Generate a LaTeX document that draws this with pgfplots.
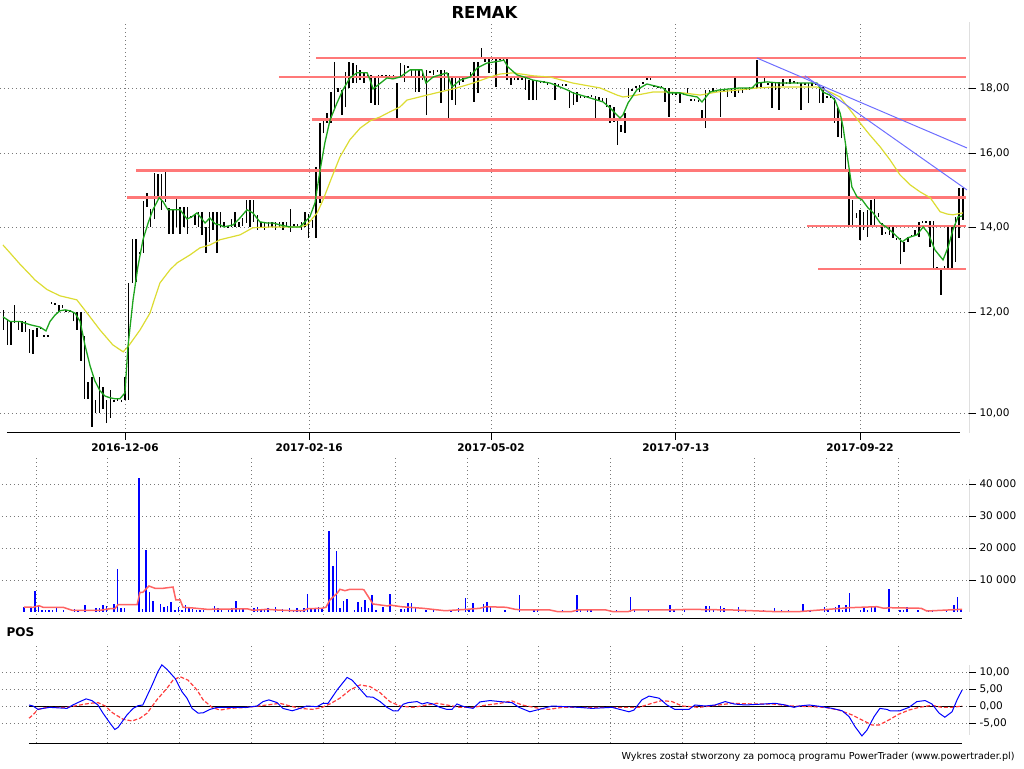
\documentclass[border=0pt]{standalone}
\usepackage{pgfplots}
\pgfplotsset{compat=1.18}
\usepackage{pgfplotstable}
\usepackage{fontspec}
\setmainfont{DejaVu Sans}

\definecolor{gridgray}{RGB}{120,120,120}
\definecolor{lvl}{RGB}{255,120,120}
\definecolor{trend}{RGB}{110,110,255}
\definecolor{maS}{RGB}{30,165,30}
\definecolor{maL}{RGB}{220,220,50}
\definecolor{volma}{RGB}{255,100,100}
\definecolor{posred}{RGB}{255,60,60}

% daily bars: index, low, high
\pgfplotstableread{
i lo hi
0 11.62 12.05
1 11.31 11.84
2 11.31 11.80
3 11.77 12.16
4 11.62 11.80
5 11.58 11.80
6 11.58 11.80
7 11.15 11.64
8 11.13 11.62
9 11.48 11.66
10 11.64 11.68
11 11.48 11.52
12 11.48 11.52
13 12.18 12.23
14 12.16 12.20
15 12.00 12.16
16 12.09 12.16
17 12.00 12.05
18 12.00 12.05
19 11.80 12.00
20 11.62 12.00
21 10.99 12.00
22 10.26 11.50
23 10.26 10.58
24 9.75 10.68
25 10.00 10.24
26 10.00 10.68
27 10.07 10.48
28 9.82 10.24
29 9.91 10.43
30 10.20 10.24
31 10.22 10.26
32 10.20 10.24
33 10.24 10.68
34 10.24 12.65
35 12.65 13.70
36 12.67 13.70
37 13.33 13.38
38 13.36 14.67
39 14.52 14.89
40 14.00 14.46
41 14.20 15.44
42 14.73 15.41
43 14.44 15.41
44 14.65 15.46
45 13.83 14.49
46 13.83 14.44
47 14.00 14.81
48 13.83 14.52
49 14.00 14.52
50 13.83 14.52
51 14.23 14.28
52 14.05 14.33
53 14.00 14.39
54 13.80 14.39
55 13.36 14.00
56 13.63 14.39
57 13.93 14.39
58 13.36 14.39
59 14.00 14.39
60 14.00 14.13
61 13.98 14.03
62 14.00 14.21
63 14.00 14.39
64 14.00 14.13
65 14.03 14.23
66 14.10 14.70
67 14.00 14.70
68 14.13 14.70
69 13.93 14.31
70 14.00 14.13
71 13.93 14.13
72 14.00 14.13
73 14.00 14.13
74 13.93 14.13
75 14.00 14.13
76 13.93 14.13
77 14.00 14.13
78 13.88 14.46
79 14.03 14.08
80 14.03 14.08
81 13.93 14.13
82 14.00 14.39
83 13.73 14.33
84 13.98 14.18
85 13.73 15.60
86 14.62 16.90
87 16.59 16.99
88 16.90 17.20
89 16.90 17.87
90 17.30 18.86
91 17.87 18.00
92 17.14 17.94
93 17.39 18.53
94 18.00 18.86
95 18.16 18.83
96 18.16 18.76
97 18.26 18.60
98 18.16 18.53
99 18.36 18.46
100 17.52 18.43
101 17.46 18.40
102 17.46 18.43
103 18.36 18.43
104 18.36 18.43
105 18.36 18.43
106 18.33 18.43
107 17.05 18.16
108 18.33 18.83
109 18.20 18.76
110 18.66 18.73
111 18.36 18.60
112 17.87 18.60
113 17.87 18.60
114 18.26 18.53
115 17.14 18.60
116 18.50 18.56
117 18.43 18.60
118 18.53 18.60
119 17.52 18.60
120 17.94 18.60
121 16.99 18.50
122 17.61 18.36
123 17.46 18.40
124 18.10 18.36
125 18.20 18.40
126 18.36 18.40
127 18.36 18.53
128 17.55 18.86
129 17.84 18.86
130 19.00 19.35
131 18.86 18.97
132 18.50 19.00
133 18.93 19.00
134 18.03 18.97
135 18.93 19.00
136 18.93 19.00
137 18.26 19.00
138 18.10 18.33
139 18.26 18.33
140 18.26 18.33
141 18.26 18.33
142 17.94 18.33
143 17.61 18.26
144 17.61 18.26
145 17.61 18.26
146 18.16 18.23
147 18.16 18.23
148 18.10 18.20
149 18.13 18.16
150 17.61 18.16
151 18.07 18.13
152 18.07 18.13
153 18.07 18.13
154 17.36 17.94
155 17.46 17.87
156 17.55 17.87
157 17.68 17.74
158 17.68 17.74
159 17.68 17.74
160 17.71 17.77
161 16.99 17.74
162 17.61 17.71
163 17.55 17.68
164 17.39 17.68
165 16.90 17.46
166 16.93 17.39
167 16.24 16.99
168 16.62 16.84
169 16.59 17.20
170 17.68 18.00
171 17.90 17.97
172 18.00 18.07
173 17.87 18.10
174 18.13 18.20
175 18.26 18.33
176 18.26 18.33
177 18.03 18.10
178 18.00 18.07
179 18.00 18.07
180 17.55 18.00
181 17.08 18.00
182 17.77 17.84
183 17.77 17.87
184 17.52 17.84
185 17.77 17.84
186 17.84 18.00
187 17.58 17.64
188 17.58 17.64
189 17.55 17.61
190 16.99 17.30
191 16.74 17.94
192 17.84 17.94
193 17.87 18.00
194 17.87 17.94
195 17.08 17.94
196 17.87 17.94
197 17.71 17.94
198 17.84 18.00
199 17.71 18.33
200 17.84 17.94
201 17.84 18.00
202 17.94 18.00
203 17.94 18.03
204 17.97 18.07
205 18.00 18.93
206 18.03 18.16
207 18.16 18.33
208 18.10 18.16
209 17.36 18.20
210 17.94 18.16
211 17.30 18.20
212 18.07 18.30
213 18.13 18.20
214 18.13 18.30
215 18.16 18.23
216 18.13 18.20
217 17.30 18.16
218 18.10 18.16
219 17.52 18.16
220 18.07 18.16
221 18.10 18.16
222 17.52 18.10
223 17.52 18.03
224 17.68 17.74
225 17.68 17.74
226 16.90 17.68
227 16.47 17.36
228 16.44 17.05
229 15.46 16.24
230 14.05 15.52
231 14.05 14.70
232 14.23 14.36
233 13.68 14.44
234 13.93 14.39
235 13.75 14.44
236 14.05 14.70
237 14.00 14.78
238 14.26 14.36
239 13.80 14.10
240 13.83 13.88
241 13.80 14.00
242 13.73 14.00
243 13.68 13.73
244 13.09 13.73
245 13.38 13.63
246 13.63 13.75
247 13.75 13.80
248 13.80 13.93
249 13.75 14.13
250 14.10 14.15
251 14.10 14.15
252 13.50 14.15
253 13.00 14.15
254 12.98 13.03
255 12.38 13.00
256 12.96 13.05
257 13.00 14.00
258 13.00 14.00
259 13.14 14.26
260 13.73 15.02
261 14.18 15.02
}\bars

% short moving average
\pgfplotstableread{
i p
-0.2 11.90
1.7 11.80
4.4 11.80
7.2 11.73
9.9 11.68
11.5 11.60
12.6 11.80
14.0 11.94
15.3 12.03
16.7 12.05
18.0 12.03
19.4 11.98
20.8 11.80
22.1 11.31
23.5 10.89
24.8 10.60
26.2 10.41
27.6 10.31
28.9 10.28
30.3 10.26
31.6 10.26
33.0 10.37
33.8 11.27
35.2 12.27
36.5 13.02
37.9 13.68
39.3 14.10
40.6 14.44
42.3 14.76
43.4 14.65
44.7 14.44
46.1 14.44
48.0 14.44
49.9 14.20
51.2 14.26
52.6 14.36
54.8 14.10
56.1 14.23
57.5 14.08
58.9 14.05
59.9 14.00
62.4 14.05
64.3 14.23
66.2 14.44
67.8 14.36
69.7 14.13
71.6 14.10
73.3 14.10
75.2 14.05
77.9 14.00
80.6 14.00
82.0 14.13
83.3 14.26
84.7 14.62
86.1 15.52
87.4 16.30
88.8 16.99
90.7 17.52
92.3 17.94
94.2 18.33
96.1 18.50
98.9 18.50
99.7 18.26
100.5 17.97
101.9 18.10
104.3 18.33
105.9 18.30
107.8 18.36
110.6 18.60
113.8 18.60
114.9 18.16
116.8 18.36
120.6 18.50
122.0 18.03
124.2 18.26
126.9 18.36
128.8 18.66
131.5 18.83
135.1 18.90
136.1 18.93
137.2 18.70
139.7 18.43
142.4 18.33
144.0 18.26
148.7 18.16
153.3 17.94
154.9 17.84
158.7 17.71
163.1 17.55
165.0 17.36
167.7 17.05
168.5 17.14
169.9 17.52
172.3 17.94
175.0 18.13
179.4 18.00
180.8 17.84
184.0 17.84
185.9 17.77
188.7 17.71
190.0 17.55
192.2 17.87
194.9 17.94
200.4 18.00
203.6 18.00
205.0 18.16
207.7 18.20
211.2 18.16
216.7 18.16
221.3 18.16
222.9 17.87
224.8 17.77
226.2 17.61
227.6 17.20
228.4 16.77
229.7 15.80
230.8 15.05
232.2 14.78
233.6 14.70
235.2 14.49
236.6 14.36
238.5 14.10
240.4 13.98
242.0 13.85
244.5 13.63
246.1 13.73
248.5 13.80
250.2 14.00
251.5 13.85
253.4 13.43
255.6 13.19
257.0 13.50
258.3 13.93
259.7 14.26
260.8 14.28
}\maShort

% long moving average
\pgfplotstableread{
i p
-0.2 13.55
1.7 13.36
4.4 13.09
7.2 12.84
8.5 12.72
11.8 12.50
15.3 12.36
19.9 12.27
22.7 11.98
26.2 11.62
29.7 11.31
32.5 11.17
33.8 11.27
37.1 11.62
39.8 11.98
42.5 12.65
45.3 12.96
47.2 13.12
50.7 13.31
53.4 13.48
56.1 13.55
58.9 13.68
64.3 13.80
67.8 13.98
73.3 14.00
80.6 14.00
82.5 14.05
85.3 14.36
86.9 14.70
89.3 15.32
91.5 15.89
94.2 16.39
97.0 16.74
99.7 16.96
102.4 17.08
105.1 17.24
107.8 17.39
109.7 17.61
115.2 17.77
118.7 17.87
123.3 18.00
127.7 18.16
132.3 18.36
135.1 18.46
138.6 18.50
144.0 18.40
148.7 18.36
154.9 18.16
162.3 18.00
166.9 17.77
168.5 17.71
172.3 17.77
176.7 17.87
180.5 17.87
184.8 17.84
189.5 17.77
194.1 17.87
200.4 17.94
205.0 18.00
209.3 18.03
216.7 18.03
221.3 18.03
224.8 17.87
227.6 17.71
230.3 17.30
233.0 16.90
235.7 16.53
238.5 16.18
241.2 15.80
243.9 15.38
246.6 15.11
249.3 14.92
252.1 14.76
254.8 14.39
256.7 14.33
258.3 14.31
261.0 14.36
}\maLong

% volume
\pgfplotstableread{
j v
0 1700
2 1200
3 6600
4 2200
5 700
6 700
7 700
8 700
9 1200
11 700
14 1000
15 700
17 2200
20 1200
21 1200
22 2200
23 1800
25 2600
26 13500
27 1200
28 1200
32 42000
33 1000
34 19400
35 6100
36 3500
38 2600
39 1700
40 1900
41 3000
42 700
43 1700
44 700
45 2200
46 1400
47 1000
48 700
49 700
50 700
53 1900
54 1200
55 1000
57 1000
58 1400
59 3500
60 1200
61 1000
64 1200
65 1700
66 1000
67 1000
68 1200
70 1700
72 1000
74 1400
75 700
76 1200
77 700
78 1200
79 5500
80 1400
81 1400
82 1700
83 1400
85 25300
86 14500
87 19100
88 1400
89 3400
90 4000
92 500
93 3100
94 1600
95 3600
96 1250
97 5200
98 700
100 1600
102 5500
105 1000
106 1000
107 2800
108 2800
109 1600
112 700
114 1000
119 500
121 1350
123 4500
124 700
125 2800
128 2600
129 3100
130 1600
134 700
138 5200
142 500
143 500
150 700
154 5200
155 700
157 500
158 500
165 500
169 4700
170 700
174 1000
180 2100
181 1000
184 700
190 1800
191 1800
192 500
194 1800
195 1250
199 1600
201 500
206 500
209 1250
211 500
213 500
217 2600
219 500
223 1600
224 700
226 1600
227 2300
228 700
229 2100
230 5900
233 700
234 1600
235 500
236 1600
237 1600
241 7100
244 500
245 500
246 1600
249 500
252 700
253 500
257 700
259 2100
260 4700
261 700
}\vol

% volume average
\pgfplotstableread{
j v
0.0 1560
2.5 1470
4.2 1970
5.3 1470
10.9 1470
13.4 530
21.2 530
24.0 1030
25.3 1030
26.2 2280
31.5 2280
32.3 6160
33.1 6160
34.8 8125
36.5 7400
38.7 7400
41.5 7800
42.3 3750
43.5 3750
44.3 1470
47.1 1250
51.0 840
58.2 940
62.4 940
63.8 530
67.7 840
70.5 625
74.9 400
77.7 400
79.1 1030
83.0 1160
84.1 1470
85.2 3750
87.2 5840
88.0 7100
89.4 6660
90.8 7100
94.2 7100
94.7 6900
97.2 2500
101.4 1875
101.9 2190
105.0 1660
111.1 1160
117.3 400
123.4 840
127.0 1160
128.7 1660
134.3 1470
136.8 840
139.0 625
146.5 625
148.7 100
152.4 100
154.3 625
162.1 625
164.1 100
168.2 100
169.6 625
179.1 625
185.2 840
197.5 625
209.7 100
215.6 100
221.7 625
229.8 1340
237.6 1660
239.5 1160
241.2 1340
249.9 1160
251.5 310
261.3 840
}\volma

% POS oscillator
\pgfplotstableread{
j v
1.4 0.3
2.5 0.0
3.9 -1.0
5.3 -0.7
7.2 -0.4
12.0 -0.7
13.6 0.3
15.6 1.3
17.3 2.1
18.9 1.6
20.6 0.3
22.0 -2.1
24.0 -5.1
25.3 -6.9
26.2 -6.3
28.7 -2.6
30.4 -0.7
31.8 0.1
33.1 0.3
35.7 6.2
37.3 10.1
38.4 12.1
39.8 10.8
42.1 8.1
44.0 4.2
45.4 2.3
46.8 -0.7
48.5 -2.1
49.9 -2.0
51.8 -1.0
53.8 -0.4
58.2 -0.4
62.1 -0.4
64.9 0.0
66.6 1.3
68.2 1.8
70.5 1.0
72.1 -0.7
74.7 -1.4
76.0 -1.0
78.8 0.0
81.6 -0.2
83.3 0.8
84.7 0.8
87.2 4.7
90.0 8.4
91.4 7.6
93.0 5.7
95.5 2.7
97.2 2.6
99.2 1.3
101.1 -0.4
102.8 -1.4
104.2 -1.4
105.6 0.5
107.0 1.0
109.5 1.3
110.9 0.6
112.3 1.0
113.9 0.6
115.9 -0.4
117.8 -1.0
119.2 -1.0
120.6 0.6
122.0 0.0
123.4 -0.4
125.1 -0.7
127.0 1.2
129.8 1.6
132.6 1.3
135.9 1.0
137.9 -0.4
140.9 -1.7
143.5 -1.0
147.1 0.0
154.6 -0.4
158.2 -0.7
163.8 -0.4
168.5 -1.7
169.9 -1.2
172.1 1.8
174.1 2.9
176.9 2.3
179.1 0.3
181.3 -1.0
185.2 -1.0
186.9 0.3
189.7 0.0
192.5 0.3
195.3 1.3
197.8 0.6
200.8 0.3
206.4 0.6
209.2 0.8
212.0 0.3
214.5 -0.4
215.9 0.0
218.7 0.3
222.3 -0.2
225.1 -0.7
227.9 -1.4
229.8 -3.1
231.5 -6.1
233.4 -8.8
234.8 -7.1
236.8 -3.1
238.4 -0.7
240.4 -1.0
241.2 -1.4
244.0 -1.4
246.5 -0.4
248.7 1.3
251.0 1.6
252.9 0.6
254.9 -2.1
256.5 -3.3
258.5 -1.7
259.9 1.8
261.3 4.7
}\pos

% POS signal
\pgfplotstableread{
j v
1.4 -3.6
2.5 -2.6
3.9 -1.0
6.4 -0.4
12.0 -0.4
15.6 0.3
18.4 0.8
20.6 1.0
22.6 0.0
24.8 -2.1
27.6 -3.9
30.1 -4.4
32.3 -3.6
34.3 -2.1
37.0 1.8
39.8 5.2
41.5 7.6
43.5 8.6
45.7 7.6
48.2 4.7
49.9 1.8
52.4 -0.4
54.6 -1.2
57.4 -0.7
62.1 -0.4
67.7 0.3
71.3 0.8
74.1 0.0
76.9 -0.7
80.5 -1.0
83.0 -0.4
85.2 0.6
88.0 2.3
90.8 4.7
93.6 6.2
96.4 5.7
99.2 3.9
101.9 1.3
104.7 0.0
108.4 -0.4
112.3 0.3
115.0 0.8
117.8 0.3
121.4 -0.4
125.1 -0.4
129.0 0.3
132.6 0.8
135.9 1.5
138.7 0.3
143.5 -0.7
146.2 -1.0
149.9 -0.4
159.1 -0.4
167.4 -0.4
171.3 -0.4
174.9 0.8
177.7 1.6
180.5 1.3
183.3 0.0
188.0 -0.4
193.6 0.3
197.2 0.8
202.8 0.6
208.4 0.6
213.9 0.0
219.5 -0.2
223.1 -0.4
227.0 -1.2
230.6 -2.6
233.4 -4.1
236.2 -5.6
238.2 -5.6
240.9 -4.1
243.7 -2.4
246.5 -1.2
249.3 -0.4
252.9 0.2
255.7 -0.4
258.5 -0.4
261.3 0.0
}\possig

\pgfplotsset{
  panel/.style={
    scale only axis,
    axis x line*=bottom, axis y line*=right,
    axis line style={draw=none},
    tick align=outside, major tick length=7pt,
    tick style={black, line width=0.8pt},
    major grid style={gridgray, line width=0.8pt, dash pattern=on 1pt off 3pt},
    tick label style={font=\fontsize{10.5}{12}\selectfont},
    yticklabel style={anchor=west},
    scaled y ticks=false,
  },
  lower/.style={
    panel, width=967pt, xmin=-6.13, xmax=263.23,
    xtick=\empty, ymajorgrids=true,
    extra x ticks={3.34,23.35,43.36,63.37,83.38,103.39,123.4,143.41,163.42,183.43,203.44,223.45,243.46},
    extra x tick labels={},
    extra x tick style={grid=major, tick style={draw=none}},
  },
}

\begin{document}
\begin{tikzpicture}
\path[use as bounding box] (0pt,0pt) rectangle (1024pt,768pt);

\node[font=\fontsize{16.5}{20}\selectfont\bfseries] at (484.5pt,756pt) {REMAK};

% price panel
\begin{axis}[panel,
  at={(0pt,335pt)}, anchor=south west,
  width=969pt, height=411pt,
  xmin=-1.007, xmax=262.67,
  ymode=log, ymin=9.645, ymax=20.28,
  grid=major,
  xtick={33.0,83.1,132.6,182.9,233.0},
  xticklabels={2016-12-06,2017-02-16,2017-05-02,2017-07-13,2017-09-22},
  xticklabel style={font=\fontsize{10.5}{12}\selectfont\bfseries},
  ytick={10,12,14,16,18},
  yticklabels={{10,00},{12,00},{14,00},{16,00},{18,00}},
]
\addplot[draw=none, mark=none, forget plot,
  error bars/.cd, y dir=plus, y explicit, error mark=none,
  error bar style={draw=black, line width=1.5pt, solid}]
  table[x=i, y=lo, y error plus expr=\thisrow{hi}-\thisrow{lo}] {\bars};
\addplot[lvl, line width=2.4pt] coordinates {(85.0,19.00) (261.9,19.00)};
\addplot[lvl, line width=2.4pt] coordinates {(74.9,18.35) (261.9,18.35)};
\addplot[lvl, line width=2.4pt] coordinates {(83.9,17.00) (261.9,17.00)};
\addplot[lvl, line width=2.4pt] coordinates {(36.0,15.50) (261.9,15.50)};
\addplot[lvl, line width=2.4pt] coordinates {(33.6,14.77) (261.9,14.77)};
\addplot[lvl, line width=2.4pt] coordinates {(218.6,14.02) (261.9,14.02)};
\addplot[lvl, line width=2.4pt] coordinates {(221.6,12.98) (261.9,12.98)};
\addplot[maL, line width=1.2pt] table[x=i, y=p] {\maLong};
\addplot[maS, line width=1.3pt] table[x=i, y=p] {\maShort};
\addplot[trend, line width=1pt] coordinates {(205.0,19.00) (262.1,16.15)};
\addplot[trend, line width=1pt] coordinates {(218.0,18.40) (262.1,14.97)};
\draw[black, line width=1pt] (rel axis cs:0.0072,0) -- (rel axis cs:0.9907,0);
\draw[black, line width=1pt] (rel axis cs:1,1) -- (rel axis cs:1,-0.017);
\end{axis}

% volume panel
\begin{axis}[lower,
  at={(2pt,149pt)}, anchor=south west, height=161pt,
  ymin=-2187.5, ymax=48125,
  ytick={10000,20000,30000,40000},
  yticklabels={10 000,20 000,30 000,40 000},
]
\addplot[ycomb, blue, line width=1.5pt, mark=none] table[x=j, y=v] {\vol};
\addplot[volma, line width=1.5pt] table[x=j, y=v] {\volma};
\draw[black, line width=1pt] (rel axis cs:0.0279,0) -- (rel axis cs:0.9928,0);
\draw[black, line width=1pt] (rel axis cs:1,0.8696) -- (rel axis cs:1,0.0435);
\end{axis}

% POS panel
\begin{axis}[lower,
  at={(2pt,25pt)}, anchor=south west, height=98pt,
  ymin=-10.88, ymax=17.94,
  ytick={-5,0,5,10},
  yticklabels={{-5,00},{0,00},{5,00},{10,00}},
]
\draw[black, line width=1pt] (axis cs:1.39,0) -- (axis cs:261.3,0);
\addplot[posred, line width=1.2pt, dash pattern=on 4pt off 2pt] table[x=j, y=v] {\possig};
\addplot[blue, line width=1pt] table[x=j, y=v] {\pos};
\draw[black, line width=1pt] (rel axis cs:0.0279,0) -- (rel axis cs:0.9928,0);
\draw[black, line width=1pt] (rel axis cs:1,0.796) -- (rel axis cs:1,0.0816);
\end{axis}

\node[anchor=west, font=\fontsize{12}{14}\selectfont\bfseries] at (3pt,136pt) {POS};
\node[anchor=east, font=\fontsize{9.6}{11}\selectfont] at (1018pt,11pt)
  {Wykres został stworzony za pomocą programu PowerTrader (www.powertrader.pl)};
\end{tikzpicture}
\end{document}
